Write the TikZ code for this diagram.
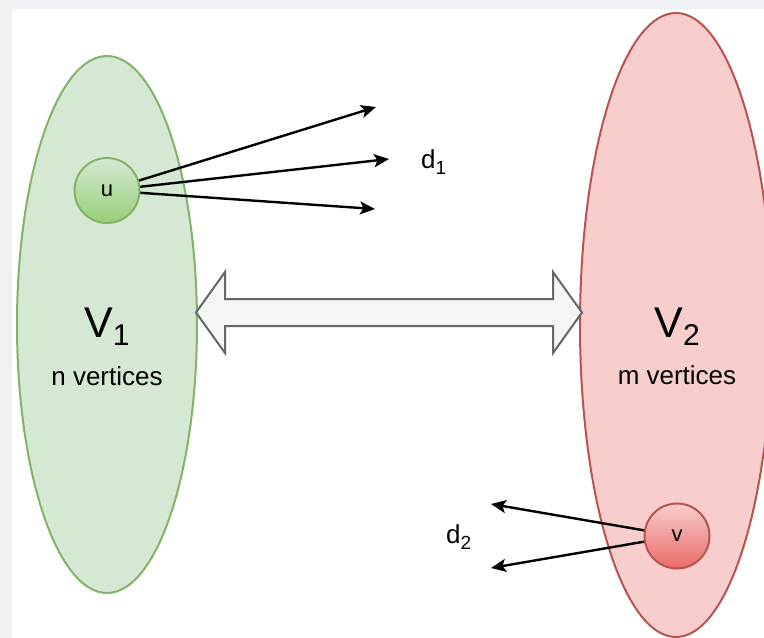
\documentclass[tikz,border=0pt]{standalone}
\usepackage{fontspec}
\setmainfont{Liberation Sans}
\usetikzlibrary{arrows.meta}
\definecolor{bordergray}{HTML}{F0F1F5}
\definecolor{gfill}{HTML}{D5E8D4}
\definecolor{gline}{HTML}{82B366}
\definecolor{ggrad}{HTML}{97D077}
\definecolor{rfill}{HTML}{F8CECC}
\definecolor{rline}{HTML}{B85450}
\definecolor{rgrad}{HTML}{EA6B66}
\definecolor{afill}{HTML}{F5F5F5}
\definecolor{aline}{HTML}{666666}
\tikzset{
  greenset/.style={fill=gfill, draw=gline, line width=2pt},
  redset/.style={fill=rfill, draw=rline, line width=2pt},
  gvert/.style={circle, minimum size=65pt, inner sep=0pt, draw=gline, line width=2pt, top color=gfill, bottom color=ggrad, font=\fontsize{22}{22}\selectfont},
  rvert/.style={circle, minimum size=65pt, inner sep=0pt, draw=rline, line width=2pt, top color=rfill, bottom color=rgrad, font=\fontsize{22}{22}\selectfont},
  edgearrow/.style={line width=2.4pt, -{Stealth[length=15pt, width=13pt, inset=3.5pt]}},
  lbl/.style={inner sep=0pt, anchor=base},
}
\begin{document}
\begin{tikzpicture}[x=1pt, y=-1pt]
\useasboundingbox (0,0) rectangle (764,638);
\fill[bordergray] (0,0) rectangle (764,638);
\fill[white] (12,9) rectangle (764,638);
\begin{scope}
\clip (0,0) rectangle (764,638);
\draw[greenset] (107,324.5) ellipse [x radius=90, y radius=268.5];
\draw[redset] (676,325) ellipse [x radius=96, y radius=312];
\end{scope}
% double arrow
\draw[fill=afill, draw=aline, line width=2pt, line join=miter]
  (196,312.5) -- (225,272) -- (225,299) -- (553,299) -- (553,272) -- (582,312.5)
  -- (553,353) -- (553,326) -- (225,326) -- (225,353) -- cycle;
% labels in sets
\node[lbl] (V1) at (107,337) {\fontsize{43}{43}\selectfont V\raisebox{-8pt}{\fontsize{30}{30}\selectfont 1}};
\node[lbl] (n1) at (107,385) {\fontsize{26}{26}\selectfont n vertices};
\node[lbl] (V2) at (677,337) {\fontsize{43}{43}\selectfont V\raisebox{-8pt}{\fontsize{30}{30}\selectfont 2}};
\node[lbl] (m2) at (677,384) {\fontsize{26}{26}\selectfont m vertices};
% vertices
\node[gvert] (u) at (107,190.5) {u};
\node[rvert] (v) at (677,536) {v};
% arrow ends
\coordinate (a1) at (376,107);
\coordinate (a2) at (389,159);
\coordinate (a3) at (375,209);
\coordinate (b1) at (491,504);
\coordinate (b2) at (491,568);
\draw[edgearrow] (u) -- (a1);
\draw[edgearrow] (u) -- (a2);
\draw[edgearrow] (u) -- (a3);
\draw[edgearrow] (v) -- (b1);
\draw[edgearrow] (v) -- (b2);
\node[inner sep=0pt, anchor=base west] (d1) at (421,168) {\fontsize{26}{26}\selectfont d\raisebox{-6pt}{\fontsize{19}{19}\selectfont 1}};
\node[inner sep=0pt, anchor=base west] (d2) at (446,543) {\fontsize{26}{26}\selectfont d\raisebox{-6pt}{\fontsize{19}{19}\selectfont 2}};
\end{tikzpicture}
\end{document}
